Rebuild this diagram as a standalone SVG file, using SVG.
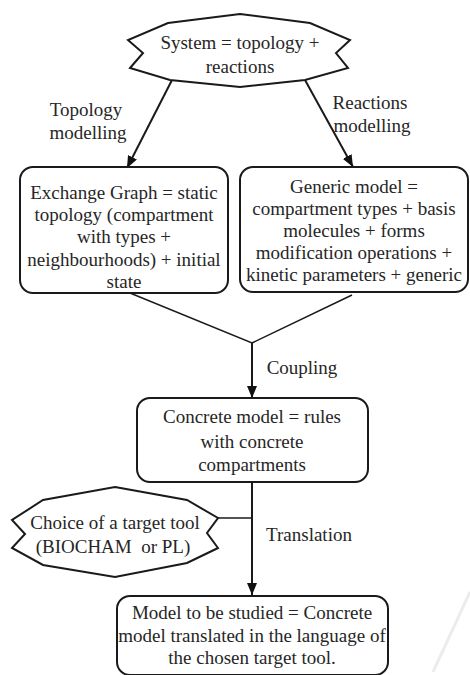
<svg xmlns="http://www.w3.org/2000/svg" width="470" height="675" viewBox="0 0 470 675">
<defs>
<marker id="ah" markerWidth="12" markerHeight="10" refX="12" refY="5" orient="auto" markerUnits="userSpaceOnUse">
<path d="M0,0 L12,5 L0,10 Z" fill="#111"/>
</marker>
<style>
.box{fill:#fff;stroke:#1a1a1a;stroke-width:2}
.star{fill:#fff;stroke:#1a1a1a;stroke-width:2;stroke-linejoin:miter}
.ln{fill:none;stroke:#1a1a1a;stroke-width:2}
.thin{fill:none;stroke:#1a1a1a;stroke-width:1.5}
</style>
</defs>
<rect width="470" height="675" fill="#fff"/>
<line x1="470" y1="592" x2="433" y2="672" stroke="#ececec" stroke-width="3"/>
<g id="connectors">
<line class="ln" x1="172" y1="80" x2="127" y2="168" marker-end="url(#ah)"/>
<line class="ln" x1="305" y1="80" x2="353" y2="167" marker-end="url(#ah)"/>
<polyline class="thin" points="130,293 252,343 352,295"/>
<line class="ln" x1="252" y1="343" x2="252" y2="398" marker-end="url(#ah)"/>
<line class="ln" x1="252" y1="482" x2="252" y2="595" marker-end="url(#ah)"/>
<line class="thin" x1="216" y1="518" x2="252" y2="518"/>
</g>
<g font-family="Liberation Serif" font-size="19" fill="#262626" text-anchor="middle">
<g id="system">
<polygon class="star" points="240,14 310,23 350,40 336,53 348,68 305,80 240,87 170,80 130,68 143,53 128,40 168,23"/>
<text x="240" y="49">System = topology +</text>
<text x="240" y="73">reactions</text>
</g>
<g id="label-topology">
<text x="86" y="116">Topology</text>
<text x="88" y="139">modelling</text>
</g>
<g id="label-reactions">
<text x="370" y="109">Reactions</text>
<text x="372" y="132">modelling</text>
</g>
<g id="exchange-graph">
<rect class="box" x="20" y="167" width="208" height="126" rx="13"/>
<text x="124" y="199">Exchange Graph = static</text>
<text x="124" y="221">topology (compartment</text>
<text x="124" y="243">with types +</text>
<text x="124" y="266">neighbourhoods) + initial</text>
<text x="124" y="288">state</text>
</g>
<g id="generic-model">
<rect class="box" x="240" y="167" width="228" height="125" rx="13"/>
<text x="354" y="193">Generic model =</text>
<text x="354" y="215">compartment types + basis</text>
<text x="354" y="237">molecules + forms</text>
<text x="354" y="259">modification operations +</text>
<text x="354" y="281">kinetic parameters + generic</text>
</g>
<g id="label-coupling">
<text x="302" y="374">Coupling</text>
</g>
<g id="concrete-model">
<rect class="box" x="137" y="398" width="231" height="84" rx="13"/>
<text x="252" y="423">Concrete model = rules</text>
<text x="252" y="448">with concrete</text>
<text x="252" y="471">compartments</text>
</g>
<g id="target-tool">
<polygon class="star" points="115,487 187,500 218,518 207,533 218,548 187,563 115,577 43,565 12,548 25,534 12,520 43,500"/>
<text x="115" y="529">Choice of a target tool</text>
<text x="113" y="553" xml:space="preserve">(BIOCHAM  or PL)</text>
</g>
<g id="label-translation">
<text x="309" y="541">Translation</text>
</g>
<g id="studied-model">
<rect class="box" x="117" y="596" width="271" height="79" rx="13"/>
<text x="252" y="619">Model to be studied = Concrete</text>
<text x="252" y="642">model translated in the language of</text>
<text x="252" y="664">the chosen target tool.</text>
</g>
</g>
</svg>
